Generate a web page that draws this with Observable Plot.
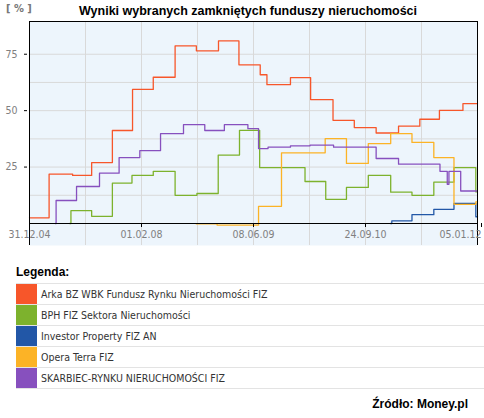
<!DOCTYPE html>
<html><head><meta charset="utf-8">
<script src="https://cdn.jsdelivr.net/npm/d3@7"></script>
<script src="https://cdn.jsdelivr.net/npm/@observablehq/plot@0.6"></script>
<style>
body{margin:0;background:#fff;width:484px;height:418px;overflow:hidden;font-family:"DejaVu Sans Condensed","DejaVu Sans",sans-serif;}
#head{position:relative;height:20px;}
#unit{position:absolute;left:6px;top:3px;font-size:11px;line-height:12px;color:#777;font-weight:bold;white-space:nowrap;}
#title{position:absolute;left:79px;top:4px;font:bold 12.5px/14px "Liberation Sans",Arial,sans-serif;color:#000;white-space:nowrap;}
#chart svg{display:block;}
#leghead{margin-left:16px;padding-top:17px;height:18px;font:bold 12px/14px "Liberation Sans",Arial,sans-serif;color:#000;}
#legend{margin-left:16px;width:468px;border-bottom:1px solid #e3e3e3;}
.row{display:flex;align-items:center;height:20px;border-top:1px solid #e3e3e3;}
.sw{width:21px;height:20px;}
.lb{padding-left:4px;font-size:10.5px;color:#333;white-space:nowrap;}
#src{text-align:right;padding-right:16px;margin-top:7px;font:bold 12px/16px "Liberation Sans",Arial,sans-serif;color:#000;}
</style></head>
<body>
<div id="head"><span id="unit">[ % ]</span><span id="title">Wyniki wybranych zamkniętych funduszy nieruchomości</span></div>
<div id="chart"></div>
<div id="leghead">Legenda:</div>
<div id="legend"></div>
<div id="src">Źródło: Money.pl</div>
<script>
const xTicks = [0, 2, 4, 6, 8];
const xTickLabels = ["31.12.04", "01.02.08", "08.06.09", "24.09.10", "05.01.12"];
const xGrid = [1, 2, 3, 4, 5, 6, 7];
const xEdges = [0, 8];
const yTicks = [25, 50, 75];
const yGrid = [12.5, 25, 37.5, 50, 62.5, 75];
const yMax = 89.5;

const seriesNames = [
  "Arka BZ WBK Fundusz Rynku Nieruchomości FIZ",
  "BPH FIZ Sektora Nieruchomości",
  "Investor Property FIZ AN",
  "Opera Terra FIZ",
  "SKARBIEC-RYNKU NIERUCHOMOŚCI FIZ"
];
const seriesColors = ["#f7562a", "#7db22d", "#2257a7", "#fcb326", "#8750be"];

const arka = [[0,2.5],[0.35,21.9],[0.77,21.3],[1.11,27],[1.48,41.2],[1.84,59.4],[2.21,64.8],[2.6,78.7],[2.98,76.5],[3.375,80.9],[3.74,70.3],[4.12,65.9],[4.24,61.5],[4.66,64.6],[5.02,54.9],[5.42,45.7],[5.8,42.5],[6.19,40.1],[6.59,43.1],[6.97,46.2],[7.32,50.1],[7.74,53.1],[8,53.1]];
const bph = [[0.72,0],[0.74,5.7],[1.11,3.2],[1.48,17.9],[1.83,21.3],[2.21,23.1],[2.6,12.5],[2.99,13.3],[3.37,30.3],[3.75,41.3],[4.11,24.8],[4.92,18.6],[5.29,10.7],[5.66,16.0],[6.05,21.3],[6.45,13.9],[6.83,12.5],[7.22,18.3],[7.58,24.8],[7.97,14.0],[8,14.0]];
const investor = [[6.45,0],[6.47,1.2],[6.83,3.9],[7.22,6.3],[7.58,8.9],[7.97,3.0],[8,3.0]];
const opera = [[2.98,-0.2],[3.35,-0.7],[4.09,7.6],[4.5,31.3],[5.28,37.6],[5.66,26.6],[6.05,35.4],[6.45,39.8],[6.83,35.9],[7.22,29.2],[7.58,8.5],[7.97,9.6],[8,9.6]];
const skarbiec = [[0.46,0],[0.475,10.2],[0.84,16.4],[1.25,22.3],[1.6,29.2],[1.97,32.3],[2.34,39.8],[2.75,43.8],[3.13,41.2],[3.48,43.8],[3.9,42.0],[4.09,33.2],[4.26,33.8],[4.66,34.4],[5.01,34.7],[5.43,33.8],[6.19,28.8],[6.59,26.3],[7.33,23.1],[7.46,17.4],[7.49,23.1],[7.7,14.4],[8,14.4]];

const allSeries = [arka, bph, investor, opera, skarbiec];
const rows = allSeries.flatMap((s, i) => s.map(([x, y]) => ({name: seriesNames[i], x, y})));

const chart = Plot.plot({
  width: 484,
  height: 228,
  marginTop: 1,
  marginBottom: 25,
  marginLeft: 29,
  marginRight: 7,
  style: {fontFamily: '"DejaVu Sans Condensed","DejaVu Sans",sans-serif', fontSize: "10px", background: "transparent"},
  x: {domain: [0, 8], label: null},
  y: {domain: [0, yMax], label: null},
  color: {domain: seriesNames, range: seriesColors},
  marks: [
    Plot.frame({fill: "#edf5fc", stroke: null, insetBottom: -22}),
    Plot.ruleY(yGrid, {stroke: "#d9d9d9"}),
    Plot.ruleX(xGrid, {stroke: "#d9d9d9", insetBottom: -22}),
    Plot.line(rows, {x: "x", y: "y", z: "name", stroke: "name", curve: "step-after", strokeWidth: 1.3}),
    Plot.ruleX(xEdges, {stroke: "#000", insetBottom: -22}),
    Plot.ruleY([yMax], {stroke: "#000"}),
    Plot.ruleY([0], {stroke: "#000"}),
    Plot.axisY({ticks: yTicks, label: null, tickSize: 3, dx: -2, tickPadding: 7, stroke: "#000", fill: "#808080", fontSize: 10.5}),
    Plot.axisX({ticks: xTicks.slice(0, 4), label: null, tickFormat: d => xTickLabels[xTicks.indexOf(d)], tickSize: 4, tickPadding: 3, stroke: "#000", fill: "#808080", fontSize: 10.5}),
    Plot.axisX({ticks: xTicks.slice(4), label: null, tickFormat: d => xTickLabels[xTicks.indexOf(d)], tickSize: 4, tickPadding: 3, textAnchor: "end", dx: 4, stroke: "#000", fill: "#808080", fontSize: 10.5})
  ]
});
document.getElementById("chart").appendChild(chart);

const leg = document.getElementById("legend");
seriesNames.forEach((n, i) => {
  const r = document.createElement("div");
  r.className = "row";
  r.innerHTML = `<div class="sw" style="background:${seriesColors[i]}"></div><div class="lb"></div>`;
  r.querySelector(".lb").textContent = n;
  leg.appendChild(r);
});
</script>
</body></html>
